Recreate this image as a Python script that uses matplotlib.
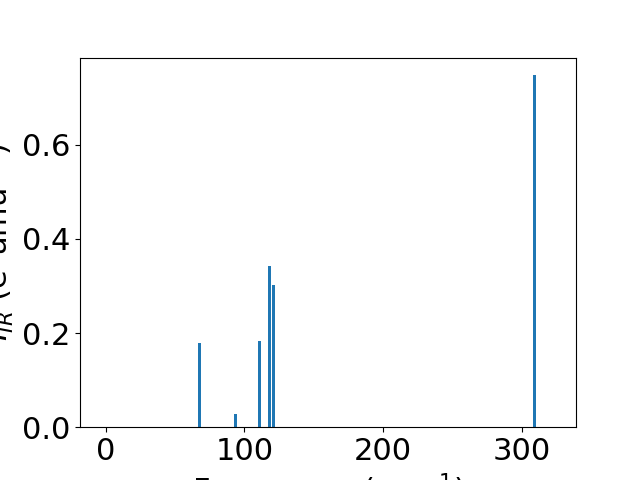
import numpy as np
import matplotlib
matplotlib.use('Agg')
from matplotlib import pyplot as plt

# IR spectrum (stick bars)
freqs = [67.7, 93.7, 111.0, 118.2, 121.3, 309.2]
intensities = [0.179, 0.028, 0.183, 0.343, 0.303, 0.748]

plt.rcParams['font.size'] = 22

fig = plt.figure(figsize=(6.4, 4.8), dpi=100)
ax = fig.add_subplot(111)
ax.bar(freqs, intensities, width=2.2, color='#1f77b4')
ax.set_xlim(-18.5, 339)
ax.set_ylim(0, 0.785)
ax.set_xticks([0, 100, 200, 300])
ax.set_yticks([0.0, 0.2, 0.4, 0.6])
ax.set_xlabel('Frequency (cm$^{-1}$)')
ax.set_ylabel('$I_{IR}$ (e$^2$amu$^{-1}$)')

fig.savefig('out.png')
